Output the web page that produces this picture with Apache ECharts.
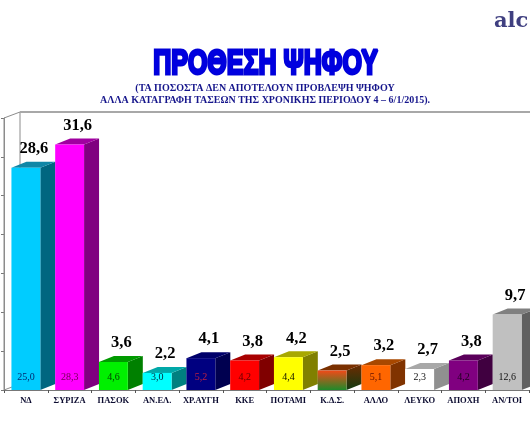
<!DOCTYPE html>
<html><head><meta charset="utf-8">
<style>html,body{margin:0;padding:0;background:#fff}#c{width:530px;height:442px}</style>
<script src="https://cdn.jsdelivr.net/npm/echarts@6/dist/echarts.min.js"></script>
</head><body><div id="c"></div>
<script>
const categories = ['ΝΔ','ΣΥΡΙΖΑ','ΠΑΣΟΚ','ΑΝ.ΕΛ.','ΧΡ.ΑΥΓΗ','ΚΚΕ','ΠΟΤΑΜΙ','Κ.Δ.Σ.','ΑΛΛΟ','ΛΕΥΚΟ','ΑΠΟΧΗ','ΑΝ/ΤΟΙ'];
const currentValues = [28.6,31.6,3.6,2.2,4.1,3.8,4.2,2.5,3.2,2.7,3.8,9.7];
const previousValues = [25.0,28.3,4.6,3.0,5.2,4.2,4.4,null,5.1,2.3,4.2,12.6];
const frontColors = ['#00ccff','#ff00ff','#00f000','#00ffff','#000080','#ff0000','#ffff00',null,'#ff6600','#ffffff','#800080','#c0c0c0'];
const topColors = ['#0f86a6','#a000a0','#009a00','#00a8a8','#00006a','#a80000','#a8a800','#7a3000','#a84800','#a8a8a8','#5a005a','#808080'];
const sideColors = ['#006680','#800080','#008000','#008080','#000050','#800000','#808000',null,'#803300','#909090','#400040','#606060'];
const innerColors = ['#002a70','#700050','#033a03','#002a40','#c02040','#600000','#101000',null,'#601000','#111111','#200020','#101010'];
const fmt = v => v.toFixed(1).replace('.', ',');
const grad = (a,b) => new echarts.graphic.LinearGradient(0,0,0,1,[{offset:0,color:a},{offset:1,color:b}]);

const DX = 15, DY = 6;
function renderBar(params, api){
  const i = api.value(0), v = api.value(1);
  const base = api.coord([i,0]), top = api.coord([i,v]);
  const w = api.size([1,0])[0]*0.66;
  const x0 = base[0]-w/2, x1 = x0+w, y0 = top[1], y1 = base[1];
  const front = frontColors[i] || grad('#f04a18','#1f8a2a');
  const side = sideColors[i] || grad('#6e2a00','#123c12');
  const kids = [
    {type:'polygon',shape:{points:[[x1,y0],[x1+DX,y0-DY],[x1+DX,y1-DY],[x1,y1]]},style:{fill:side}},
    {type:'polygon',shape:{points:[[x0,y0],[x0+DX,y0-DY],[x1+DX,y0-DY],[x1,y0]]},style:{fill:topColors[i]}},
    {type:'rect',shape:{x:x0,y:y0,width:w,height:y1-y0},style:{fill:front}},
    {type:'text',style:{x:base[0]+8,y:y0-DY-13,text:fmt(v),align:'center',verticalAlign:'middle',
      font:'bold 16.5px "Liberation Serif"',fill:'#000'}}
  ];
  const p = previousValues[i];
  if (p !== null) kids.push({type:'text',style:{x:base[0],y:y1-13,text:fmt(p),align:'center',verticalAlign:'middle',
      font:'10px "Liberation Serif"',fill:innerColors[i]}});
  return {type:'group',children:kids};
}
function renderWall(params, api){
  const r = params.coordSys, L = r.x, T = r.y, B = r.y+r.height, R = r.x+r.width;
  const line = {stroke:'#8c8c8c',lineWidth:1,fill:null};
  return {type:'group',children:[
    {type:'polyline',shape:{points:[[L,B],[L,T],[L+DX+1,T-DY]]},style:line},
    {type:'line',shape:{x1:L+DX+1,y1:T-DY,x2:L+DX+1,y2:B-DY},style:line},
    {type:'line',shape:{x1:L+DX+1,y1:T-DY,x2:R+1,y2:T-DY},style:{stroke:'#a8a8a8',lineWidth:2}},
    {type:'line',shape:{x1:L,y1:B,x2:L+DX+1,y2:B-DY},style:line}
  ]};
}
const chart = echarts.init(document.getElementById('c'),null,{renderer:'canvas'});
chart.setOption({
  animation:false,
  backgroundColor:'#fff',
  title:[
    {text:'(ΤΑ ΠΟΣΟΣΤΑ ΔΕΝ ΑΠΟΤΕΛΟΥΝ ΠΡΟΒΛΕΨΗ ΨΗΦΟΥ\nΑΛΛΑ ΚΑΤΑΓΡΑΦΗ ΤΑΣΕΩΝ ΤΗΣ ΧΡΟΝΙΚΗΣ ΠΕΡΙΟΔΟΥ 4 – 6/1/2015).',left:260,top:77,textAlign:'center',
     textStyle:{fontFamily:'Liberation Serif',fontWeight:'bold',fontSize:10,lineHeight:12.5,color:'#16168c'}},
    {text:'alc',left:489,top:6,
     textStyle:{fontFamily:'DejaVu Serif',fontWeight:'bold',fontSize:21,color:'#3f3f80'}}
  ],
  graphic:{elements:[
    {type:'text',x:265.5,y:64.5,scaleX:0.715,style:{text:'ΠΡΟΘΕΣΗ ΨΗΦΟΥ',align:'center',verticalAlign:'middle',
      font:'bold 35px "Liberation Sans"',fill:'#0000e0',stroke:'#0000d8',lineWidth:3}}
  ]},
  grid:{left:4,right:1,top:118,bottom:52,containLabel:false},
  xAxis:{type:'category',data:categories,
    axisLine:{show:true,lineStyle:{color:'#777',width:1}},
    axisTick:{show:true,alignWithLabel:false,length:3,lineStyle:{color:'#555'}},
    axisLabel:{interval:0,margin:6,fontFamily:'Liberation Serif',fontWeight:'bold',fontSize:8.5,color:'#0c0c30'}},
  yAxis:{type:'value',min:0,max:35,interval:5,
    axisLine:{show:true,lineStyle:{color:'#8c8c8c'}},
    axisTick:{show:true,length:3,lineStyle:{color:'#777'}},
    axisLabel:{show:false},splitLine:{show:false}},
  series:[
    {type:'custom',name:'wall',z:1,silent:true,renderItem:renderWall,data:[[0,0]],encode:{x:0,y:1},clip:false},
    {type:'custom',name:'bars',z:2,renderItem:renderBar,clip:false,
     data:currentValues.map((v,i)=>[i,v]),encode:{x:0,y:1}}
  ]
});
</script></body></html>
